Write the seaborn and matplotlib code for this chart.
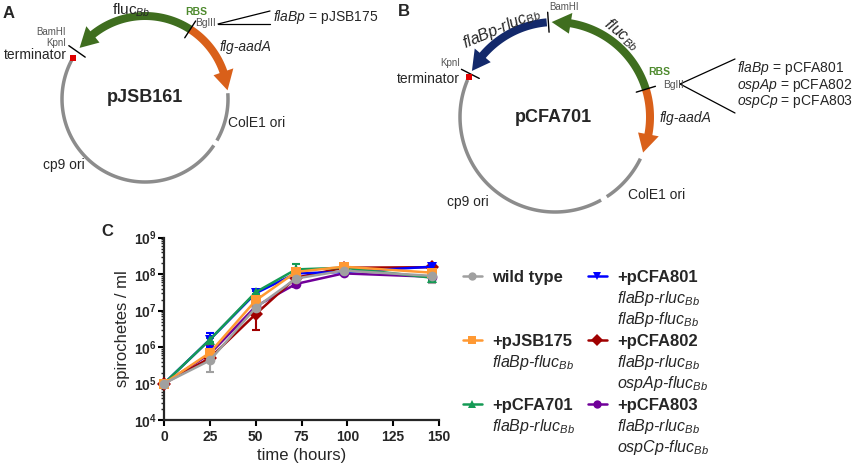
import numpy as np
import pandas as pd
import matplotlib
matplotlib.use("Agg")
import matplotlib.pyplot as plt
from matplotlib.patches import Polygon
from matplotlib.ticker import LogLocator, NullFormatter
import seaborn as sns

# growth curve data (panel C)
times = [0, 25, 50, 72, 98, 146]
strains = ["+pCFA803", "+pCFA802", "+pCFA801", "+pCFA701", "+pJSB175", "wild type"]

wt_mean = [1e5, 4.3e5, 1.2e7, 7.6e7, 1.25e8, 9.0e7]
wt_lo = [1e5, 2.1e5, 1.0e7, 6.5e7, 1.15e8, 5.6e7]
wt_hi = [1e5, 6.0e5, 1.4e7, 9.0e7, 1.35e8, 1.05e8]

jsb175_mean = [1e5, 7.0e5, 1.9e7, 1.15e8, 1.6e8, 1.1e8]
jsb175_lo = [1e5, 6.0e5, 1.6e7, 1.0e8, 1.45e8, 9.0e7]
jsb175_hi = [1e5, 8.0e5, 2.3e7, 1.3e8, 1.8e8, 1.35e8]

cfa701_mean = [1e5, 1.6e6, 3.2e7, 1.35e8, 1.5e8, 8.0e7]
cfa701_lo = [1e5, 1.4e6, 2.8e7, 1.2e8, 1.4e8, 7.0e7]
cfa701_hi = [1e5, 1.8e6, 3.6e7, 1.9e8, 1.75e8, 9.0e7]

cfa801_mean = [1e5, 1.6e6, 3.0e7, 1.05e8, 1.15e8, 1.6e8]
cfa801_lo = [1e5, 1.0e6, 2.6e7, 9.5e7, 1.05e8, 1.45e8]
cfa801_hi = [1e5, 2.5e6, 3.4e7, 1.15e8, 1.3e8, 1.8e8]

cfa802_mean = [1e5, 5.0e5, 8.0e6, 8.0e7, 1.5e8, 1.55e8]
cfa802_lo = [1e5, 4.5e5, 3.0e6, 7.0e7, 1.4e8, 1.45e8]
cfa802_hi = [1e5, 5.5e5, 1.0e7, 9.0e7, 1.6e8, 1.65e8]

cfa803_mean = [1e5, 6.5e5, 1.3e7, 5.4e7, 1.05e8, 8.5e7]
cfa803_lo = [1e5, 5.5e5, 1.1e7, 4.5e7, 9.5e7, 7.8e7]
cfa803_hi = [1e5, 1.1e6, 1.5e7, 6.0e7, 1.15e8, 9.2e7]

x_ticks = [0, 25, 50, 75, 100, 125, 150]
y_ticks = [1e4, 1e5, 1e6, 1e7, 1e8, 1e9]
y_tick_labels = [r"$\mathbf{10^{4}}$", r"$\mathbf{10^{5}}$", r"$\mathbf{10^{6}}$",
                 r"$\mathbf{10^{7}}$", r"$\mathbf{10^{8}}$", r"$\mathbf{10^{9}}$"]

colors = {"wild type": "#A0A0A0", "+pJSB175": "#FF9933", "+pCFA701": "#159A55",
          "+pCFA801": "#0000FF", "+pCFA802": "#A00000", "+pCFA803": "#700099"}
markers = {"wild type": "o", "+pJSB175": "s", "+pCFA701": "^",
           "+pCFA801": "v", "+pCFA802": "D", "+pCFA803": "o"}

# plasmid maps: segments as angles in degrees (counterclockwise from east)
a_center, a_radius = (145, 99), 83
a_backbone = [(152, 326), (330, 364)]
a_genes = [(57, 6, "#D9601A"), (57, 142, "#3F6E1F")]
a_sites = [57, 145]
a_term = 150

b_center, b_radius = (555, 117), 95
b_backbone = [(157, 299), (303, 334)]
b_genes = [(17, -22, "#D9601A"), (17, 92, "#3F6E1F"), (95, 151, "#13296B")]
b_sites = [17, 94, 153]
b_term = 155

sns.set_style("ticks")
plt.rcParams["font.family"] = ["Liberation Sans", "DejaVu Sans"]
plt.rcParams["mathtext.fontset"] = "custom"
plt.rcParams["mathtext.rm"] = "Liberation Sans"
plt.rcParams["mathtext.it"] = "Liberation Sans:italic"
plt.rcParams["mathtext.bf"] = "Liberation Sans:bold"

fig = plt.figure(figsize=(8.56, 4.75), dpi=100)

# overlay in pixel coordinates for the maps and legend
ov = fig.add_axes([0, 0, 1, 1])
ov.set_xlim(0, 856)
ov.set_ylim(475, 0)
ov.axis("off")


def polar(c, r, a):
    t = np.radians(a)
    return c[0] + r * np.cos(t), c[1] - r * np.sin(t)


def arc(c, r, a0, a1, color, lw):
    t = np.linspace(a0, a1, 100)
    x, y = polar(c, r, t)
    ov.plot(x, y, color=color, lw=lw, solid_capstyle="butt")


def gene(c, r, a0, a1, color, head_len=19, head_w=21):
    d = np.sign(a1 - a0)
    hl = np.degrees(head_len / r)
    base = a1 - d * hl
    arc(c, r, a0, base + d * 0.8, color, 8 * 0.72)
    tip = polar(c, r, a1)
    p1 = polar(c, r + head_w / 2, base)
    p2 = polar(c, r - head_w / 2, base)
    ov.add_patch(Polygon([tip, p1, p2], closed=True, color=color, lw=0))


def draw_plasmid(c, r, backbone, genes, sites, term):
    for a0, a1 in backbone:
        arc(c, r, a0, a1, "#8C8C8C", 3.5 * 0.72)
    for a0, a1, col in genes:
        gene(c, r, a0, a1, col)
    for a in sites:
        x, y = polar(c, np.array([r - 10, r + 10]), a)
        ov.plot(x, y, color="black", lw=1)
    x, y = polar(c, r, term)
    ov.plot([x], [y], marker="s", ms=4, color="#E00000", mew=0)


def arc_label(c, r, a, text, rot_shift=0, **kw):
    # label set roughly tangent to the circle, outside the arrow
    x, y = polar(c, r, a)
    ov.text(x, y, text, rotation=a - 90 + rot_shift, ha="center", va="center",
            rotation_mode="anchor", **kw)


draw_plasmid(a_center, a_radius, a_backbone, a_genes, a_sites, a_term)
draw_plasmid(b_center, b_radius, b_backbone, b_genes, b_sites, b_term)

gray_txt = "#555555"
rbs_col = "#4E8A2E"

# panel A labels
ov.text(3, 13, "A", fontsize=12, fontweight="bold", va="center")
ov.text(112, 15, "fluc$_{Bb}$", fontsize=11, va="baseline")
ov.text(185, 12, "RBS", fontsize=7.5, fontweight="bold", color=rbs_col, va="center")
ov.text(195, 23.5, "BglII", fontsize=7.5, color=gray_txt, va="center")
ov.plot([218, 270], [24, 11], color="black", lw=0.9)
ov.plot([218, 270], [24, 24], color="black", lw=0.9)
ov.text(273, 17, "$flaBp$ = pJSB175", fontsize=10, va="center")
ov.text(220, 47, "flg-aadA", fontsize=10, style="italic", va="center")
ov.text(66, 32, "BamHI", fontsize=7, color=gray_txt, ha="right", va="center")
ov.text(66, 43, "KpnI", fontsize=7, color=gray_txt, ha="right", va="center")
ov.text(67, 55, "terminator", fontsize=10, ha="right", va="center")
ov.text(145, 97, "pJSB161", fontsize=13, fontweight="bold", ha="center", va="center")
ov.text(228, 123, "ColE1 ori", fontsize=10, va="center")
ov.text(43, 165, "cp9 ori", fontsize=10, va="center")

# panel B labels
ov.text(398, 12, "B", fontsize=12, fontweight="bold", va="center")
ov.text(564, 7, "BamHI", fontsize=7, color=gray_txt, ha="center", va="center")
arc_label(b_center, b_radius + 9, 121, "flaBp-rluc$_{Bb}$", rot_shift=-8,
          fontsize=11.5, style="italic")
arc_label(b_center, b_radius + 11, 51, "fluc$_{Bb}$", fontsize=11.5, style="italic")
ov.text(648, 72, "RBS", fontsize=7.5, fontweight="bold", color=rbs_col, va="center")
ov.text(663, 85, "BglII", fontsize=7.5, color=gray_txt, va="center")
ov.plot([680, 735], [84, 59], color="black", lw=0.9)
ov.plot([680, 735], [84, 113], color="black", lw=0.9)
ov.text(737, 68, "$flaBp$ = pCFA801", fontsize=10, va="center")
ov.text(737, 85, "$ospAp$ = pCFA802", fontsize=10, va="center")
ov.text(737, 102, "$ospCp$ = pCFA803", fontsize=10, va="center")
ov.text(660, 118, "flg-aadA", fontsize=10, style="italic", va="center")
ov.text(440, 63, "KpnI", fontsize=7, color=gray_txt, va="center")
ov.text(460, 79, "terminator", fontsize=10, ha="right", va="center")
ov.text(553, 118, "pCFA701", fontsize=13, fontweight="bold", ha="center", va="center")
ov.text(628, 195, "ColE1 ori", fontsize=10, va="center")
ov.text(447, 202, "cp9 ori", fontsize=10, va="center")

ov.text(101, 232, "C", fontsize=12, fontweight="bold", va="center")

# panel C growth curves
ax = fig.add_axes([164 / 856, 55 / 475, 275 / 856, 182.3 / 475])

means = {"wild type": wt_mean, "+pJSB175": jsb175_mean, "+pCFA701": cfa701_mean,
         "+pCFA801": cfa801_mean, "+pCFA802": cfa802_mean, "+pCFA803": cfa803_mean}
lows = {"wild type": wt_lo, "+pJSB175": jsb175_lo, "+pCFA701": cfa701_lo,
        "+pCFA801": cfa801_lo, "+pCFA802": cfa802_lo, "+pCFA803": cfa803_lo}
highs = {"wild type": wt_hi, "+pJSB175": jsb175_hi, "+pCFA701": cfa701_hi,
         "+pCFA801": cfa801_hi, "+pCFA802": cfa802_hi, "+pCFA803": cfa803_hi}

df = pd.DataFrame([(s, t, v) for s in strains for t, v in zip(times, means[s])],
                  columns=["strain", "time", "cells"])

for s in strains:
    m = np.array(means[s])
    err = [m - np.array(lows[s]), np.array(highs[s]) - m]
    ax.errorbar(times, m, yerr=err, fmt="none", ecolor=colors[s], elinewidth=1.5,
                capsize=3, capthick=1.5, clip_on=False, zorder=2)

sns.lineplot(data=df, x="time", y="cells", hue="strain", style="strain",
             hue_order=strains, style_order=strains, palette=colors,
             markers=markers, dashes=False, markersize=7, markeredgewidth=0,
             linewidth=1.8, legend=False, clip_on=False, ax=ax, zorder=3)

ax.set_yscale("log")
ax.set_xlim(0, 150)
ax.set_ylim(1e4, 1e9)
ax.set_xticks(x_ticks)
ax.set_xticklabels([str(v) for v in x_ticks], fontweight="bold", fontsize=10)
ax.set_yticks(y_ticks, labels=y_tick_labels, fontsize=10)
ax.yaxis.set_minor_locator(LogLocator(base=10, subs=np.arange(2, 10), numticks=20))
ax.yaxis.set_minor_formatter(NullFormatter())
sns.despine(ax=ax)
for side in ["left", "bottom"]:
    ax.spines[side].set_linewidth(1.6)
ax.tick_params(axis="both", which="major", length=4, width=1.5, color="black")
ax.tick_params(axis="y", which="major", pad=1)
ax.tick_params(axis="y", which="minor", length=2.5, width=1)
ax.tick_params(axis="x", pad=3)
ax.set_xlabel("time (hours)", fontsize=12, labelpad=3)
ax.set_ylabel("spirochetes / ml", fontsize=12, labelpad=3)
ax.grid(False)

# legend drawn on overlay
legend_rows = [
    ("wild type", 463, 492, 276, []),
    ("+pJSB175", 463, 492, 340, ["flaBp-fluc$_{Bb}$"]),
    ("+pCFA701", 463, 492, 404, ["flaBp-rluc$_{Bb}$"]),
    ("+pCFA801", 588, 617, 276, ["flaBp-rluc$_{Bb}$", "flaBp-fluc$_{Bb}$"]),
    ("+pCFA802", 588, 617, 340, ["flaBp-rluc$_{Bb}$", "ospAp-fluc$_{Bb}$"]),
    ("+pCFA803", 588, 617, 404, ["flaBp-rluc$_{Bb}$", "ospCp-fluc$_{Bb}$"]),
]
for name, hx, tx, y, subs in legend_rows:
    ov.plot([hx, hx + 19], [y, y], color=colors[name], lw=1.8)
    ov.plot([hx + 9.5], [y], marker=markers[name], color=colors[name], ms=6, mew=0)
    ov.text(tx, y + 6, name, fontsize=12, fontweight="bold", va="baseline")
    for i, sub in enumerate(subs):
        ov.text(tx, y + 6 + 21 * (i + 1), sub, fontsize=11.5, style="italic", va="baseline")

fig.savefig("out.png", dpi=100)
